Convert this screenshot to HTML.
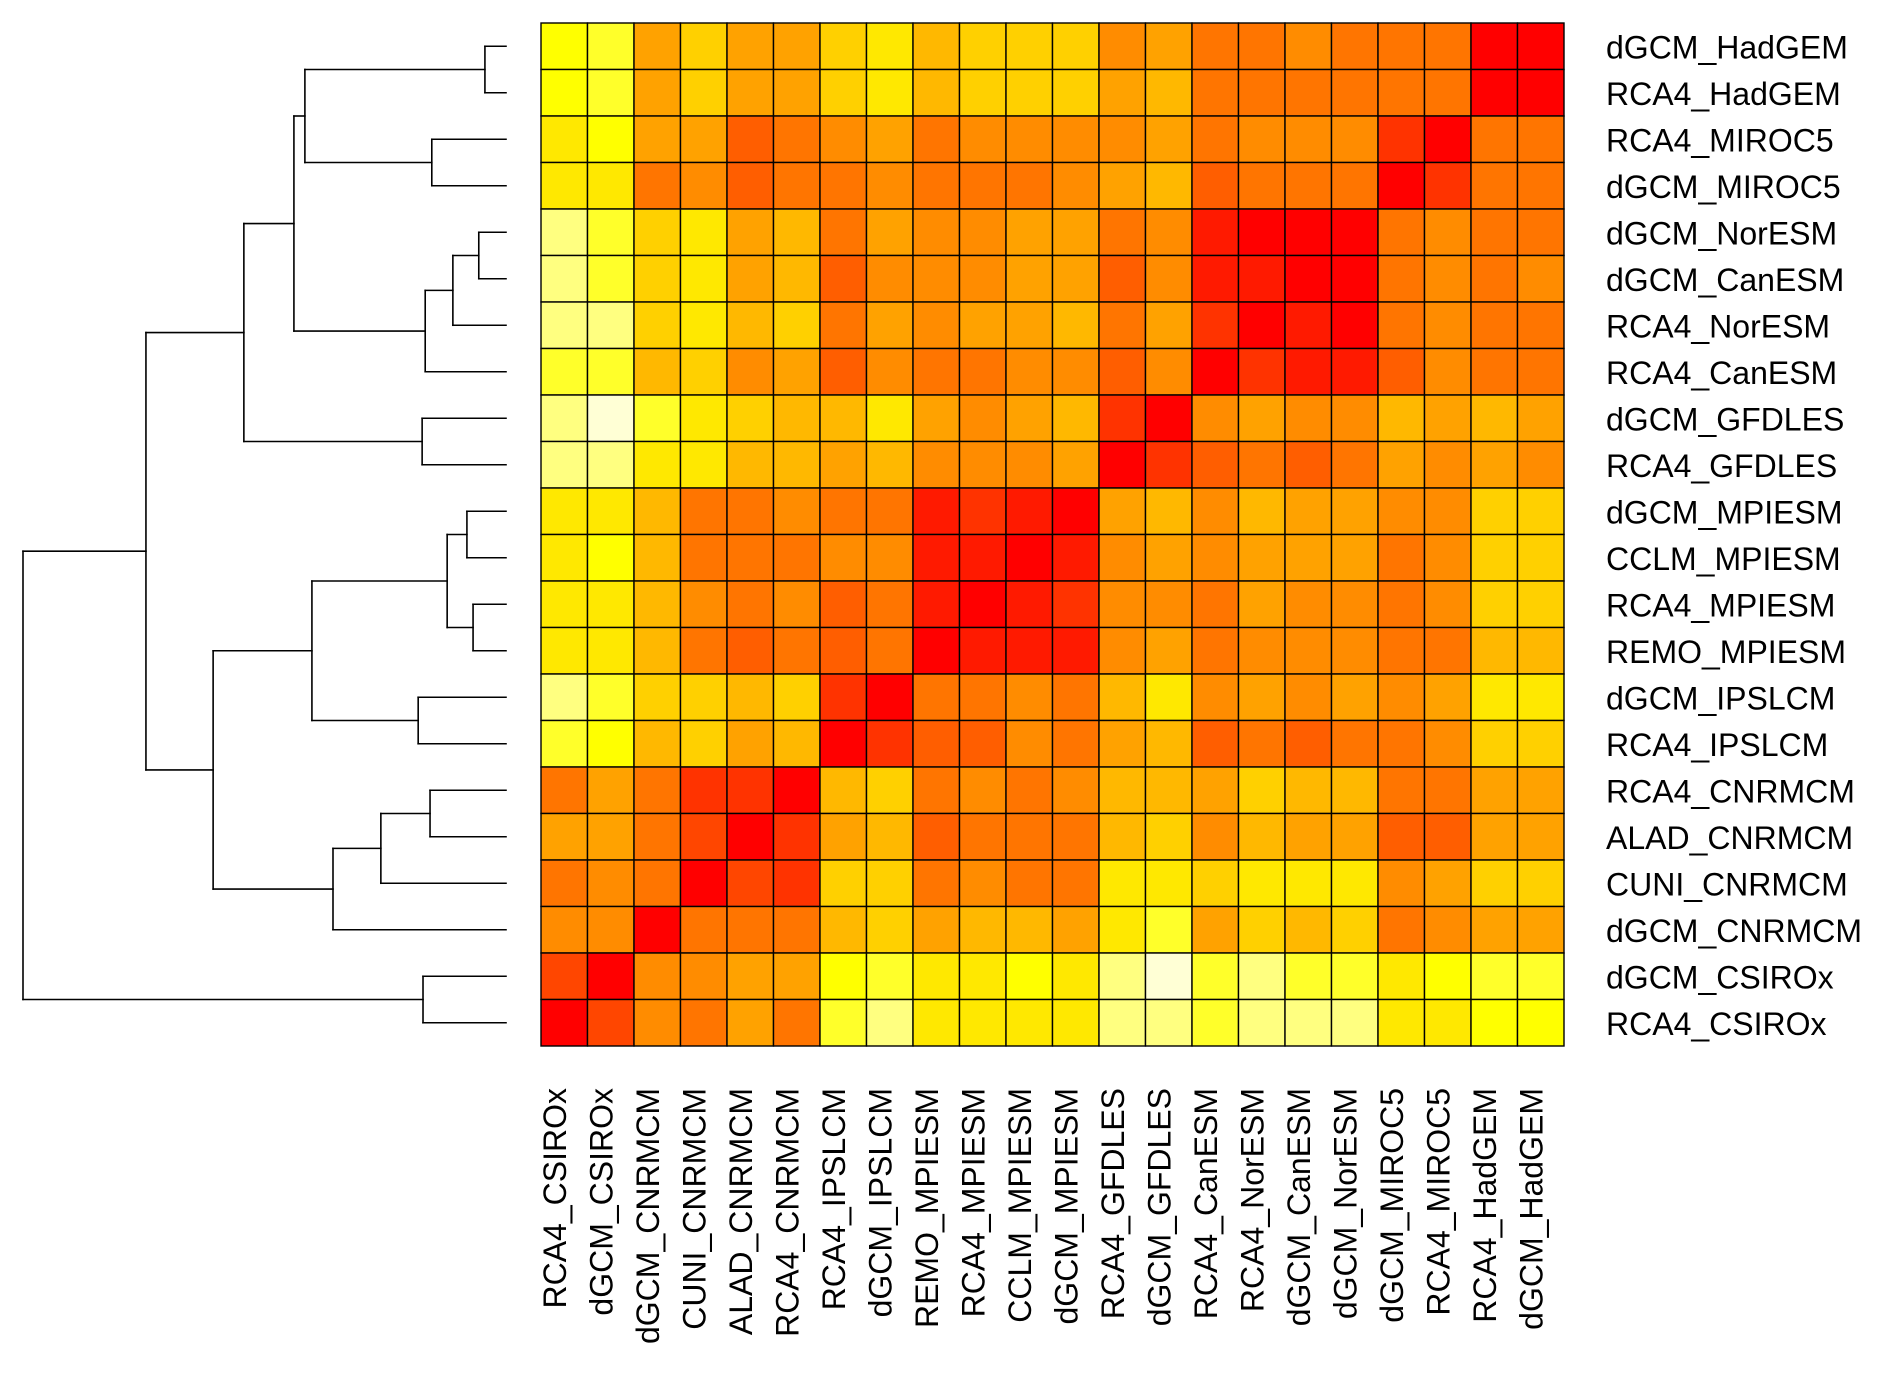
<!DOCTYPE html>
<html><head><meta charset="utf-8"><style>
html,body{margin:0;padding:0;background:#fff;}
svg{display:block;}
text{font-family:"Liberation Sans",Arial,sans-serif;font-size:32px;fill:#000;}
</style></head>
<body>
<svg id="chart" width="1890" height="1376" viewBox="0 0 1890 1376" xmlns="http://www.w3.org/2000/svg">
<g id="cells"></g>
<g id="dendro"></g>
<g id="rowlabels"></g>
<g id="collabels"></g>
</svg>
<script>
const rowLabels = ["dGCM_HadGEM","RCA4_HadGEM","RCA4_MIROC5","dGCM_MIROC5","dGCM_NorESM","dGCM_CanESM","RCA4_NorESM","RCA4_CanESM","dGCM_GFDLES","RCA4_GFDLES","dGCM_MPIESM","CCLM_MPIESM","RCA4_MPIESM","REMO_MPIESM","dGCM_IPSLCM","RCA4_IPSLCM","RCA4_CNRMCM","ALAD_CNRMCM","CUNI_CNRMCM","dGCM_CNRMCM","dGCM_CSIROx","RCA4_CSIROx"];
const colLabels = ["RCA4_CSIROx","dGCM_CSIROx","dGCM_CNRMCM","CUNI_CNRMCM","ALAD_CNRMCM","RCA4_CNRMCM","RCA4_IPSLCM","dGCM_IPSLCM","REMO_MPIESM","RCA4_MPIESM","CCLM_MPIESM","dGCM_MPIESM","RCA4_GFDLES","dGCM_GFDLES","RCA4_CanESM","RCA4_NorESM","dGCM_CanESM","dGCM_NorESM","dGCM_MIROC5","RCA4_MIROC5","RCA4_HadGEM","dGCM_HadGEM"];
const palette = ["#FF0000","#FF1A00","#FF3300","#FF4600","#FF5E00","#FF7500","#FF8C00","#FFA200","#FFB800","#FFD000","#FFE800","#FFFF00","#FFFF2A","#FFFF80","#FFFFD5"];
const levels = [
[11,12,7,9,7,7,9,10,8,9,9, 9,6,7,5,5,6,5,5,5,0,0],
[11,12,7,9,7,7,9,10,8,9,9, 9,7,8,5,5,5,5,5,5,0,0],
[10,11,7,7,4,5,6,7,5,6,6, 6,6,7,5,6,6,6,2,0,5,5],
[10,10,5,6,4,5,5,6,5,5,5, 6,7,8,4,5,5,5,0,2,5,5],
[13,12,9,10,7,8,5,7,6,6,7, 7,5,6,1,0,0,0,5,6,5,5],
[13,12,9,10,7,8,4,6,6,6,7, 7,4,6,1,1,0,0,5,6,5,6],
[13,13,9,10,8,9,5,7,6,7,7, 8,5,7,2,0,1,0,5,6,5,5],
[12,12,8,9,6,7,4,6,5,5,6, 6,4,6,0,2,1,1,4,6,5,5],
[13,14,12,10,9,8,8,10,7,6,7, 8,2,0,6,7,6,6,8,7,8,7],
[13,13,10,10,8,8,7,8,6,6,6, 7,0,2,4,5,4,5,7,6,7,6],
[10,10,8,5,5,6,5,5,1,2,1, 0,7,8,6,8,7,7,6,6,9,9],
[10,11,8,5,5,5,6,6,1,1,0, 1,6,7,6,7,7,7,5,6,9,9],
[10,10,8,6,5,6,4,5,1,0,1, 2,6,6,5,7,6,6,5,6,9,9],
[10,10,8,5,4,5,4,5,0,1,1, 1,6,7,5,6,6,6,5,5,8,8],
[13,12,9,9,8,9,2,0,5,5,6, 5,8,10,6,7,6,7,6,7,10,10],
[12,11,8,9,7,8,0,2,4,4,6, 5,7,8,4,5,4,5,5,6,9,9],
[5,7,5,2,2,0,8,9,5,6,5, 6,8,8,7,9,8,8,5,5,7,7],
[7,7,5,3,0,2,7,8,4,5,5, 5,8,9,6,8,7,7,4,4,7,7],
[5,6,5,0,3,2,9,9,5,6,5, 5,10,10,9,10,10,10,6,7,9,9],
[6,6,0,5,5,5,8,9,7,8,8, 7,10,12,7,9,8,9,5,6,7,7],
[3,0,6,6,7,7,11,12,10,10,11, 10,13,14,12,13,12,12,10,11,12,12],
[0,3,6,5,7,5,12,13,10,10,10, 10,13,13,12,13,13,13,10,10,11,11]
];
// dendrogram: [left, right, height]; leaves are row indices
const groupA = [[[[0,1,0.48],[2,3,1.69],4.58],[[[[4,5,0.62],6,1.21],7,1.84]],4.83],[8,9,1.91],5.97];
const groupB = [[[[10,11,0.89],[12,13,0.75],1.34],[14,15,2.0],4.42],[[[16,17,1.73],18,2.85],19,3.94],6.67];
const tree = [[groupA,groupB,8.2],[20,21,1.89],11.0];

const NS="http://www.w3.org/2000/svg";
const X0=541, Y0=23, CW=46.5, CH=46.5;
const xs = c => X0 + c*CW;
const ys = r => Y0 + r*CH;
const LEAFX=506, ROOTX=23, HMAX=11.0;
const hx = h => LEAFX - (LEAFX-ROOTX)*h/HMAX;

const cells=document.getElementById('cells');
levels.forEach((row,r)=>row.forEach((lv,c)=>{
  const e=document.createElementNS(NS,'rect');
  e.setAttribute('x',xs(c));e.setAttribute('y',ys(r));
  e.setAttribute('width',CW);e.setAttribute('height',CH);
  e.setAttribute('fill',palette[lv]);e.setAttribute('stroke','#000');e.setAttribute('stroke-width','1.4');
  
  
  cells.appendChild(e);
}));

const rl=document.getElementById('rowlabels');
rowLabels.forEach((t,r)=>{
  const e=document.createElementNS(NS,'text');
  e.setAttribute('x',1606);e.setAttribute('y',ys(r)+CH/2+12);
  e.textContent=t;
  
  
  rl.appendChild(e);
});
const cl=document.getElementById('collabels');
colLabels.forEach((t,c)=>{
  const e=document.createElementNS(NS,'text');
  const x=xs(c)+CW/2+1.5, y=1088;
  e.setAttribute('x',x);e.setAttribute('y',y);
  e.setAttribute('text-anchor','end');
  e.setAttribute('transform','rotate(-90 '+x+' '+y+')');
  e.textContent=t;
  
  
  cl.appendChild(e);
});

const dg=document.getElementById('dendro');
function line(x1,y1,x2,y2){
  const e=document.createElementNS(NS,'line');
  e.setAttribute('x1',x1);e.setAttribute('y1',y1);e.setAttribute('x2',x2);e.setAttribute('y2',y2);
  e.setAttribute('stroke','#000');e.setAttribute('stroke-width','1.6');e.setAttribute('stroke-linecap','square');
  
  
  dg.appendChild(e);
}
function draw(n){
  if(typeof n==='number') return {y:ys(n)+CH/2, x:LEAFX};
  if(n.length===1) return draw(n[0]);
  const a=draw(n[0]), b=draw(n[1]); const x=hx(n[2]);
  line(x,a.y,a.x,a.y); line(x,b.y,b.x,b.y); line(x,a.y,x,b.y);
  return {y:(a.y+b.y)/2, x:x};
}
draw(tree);
</script>
</body></html>
